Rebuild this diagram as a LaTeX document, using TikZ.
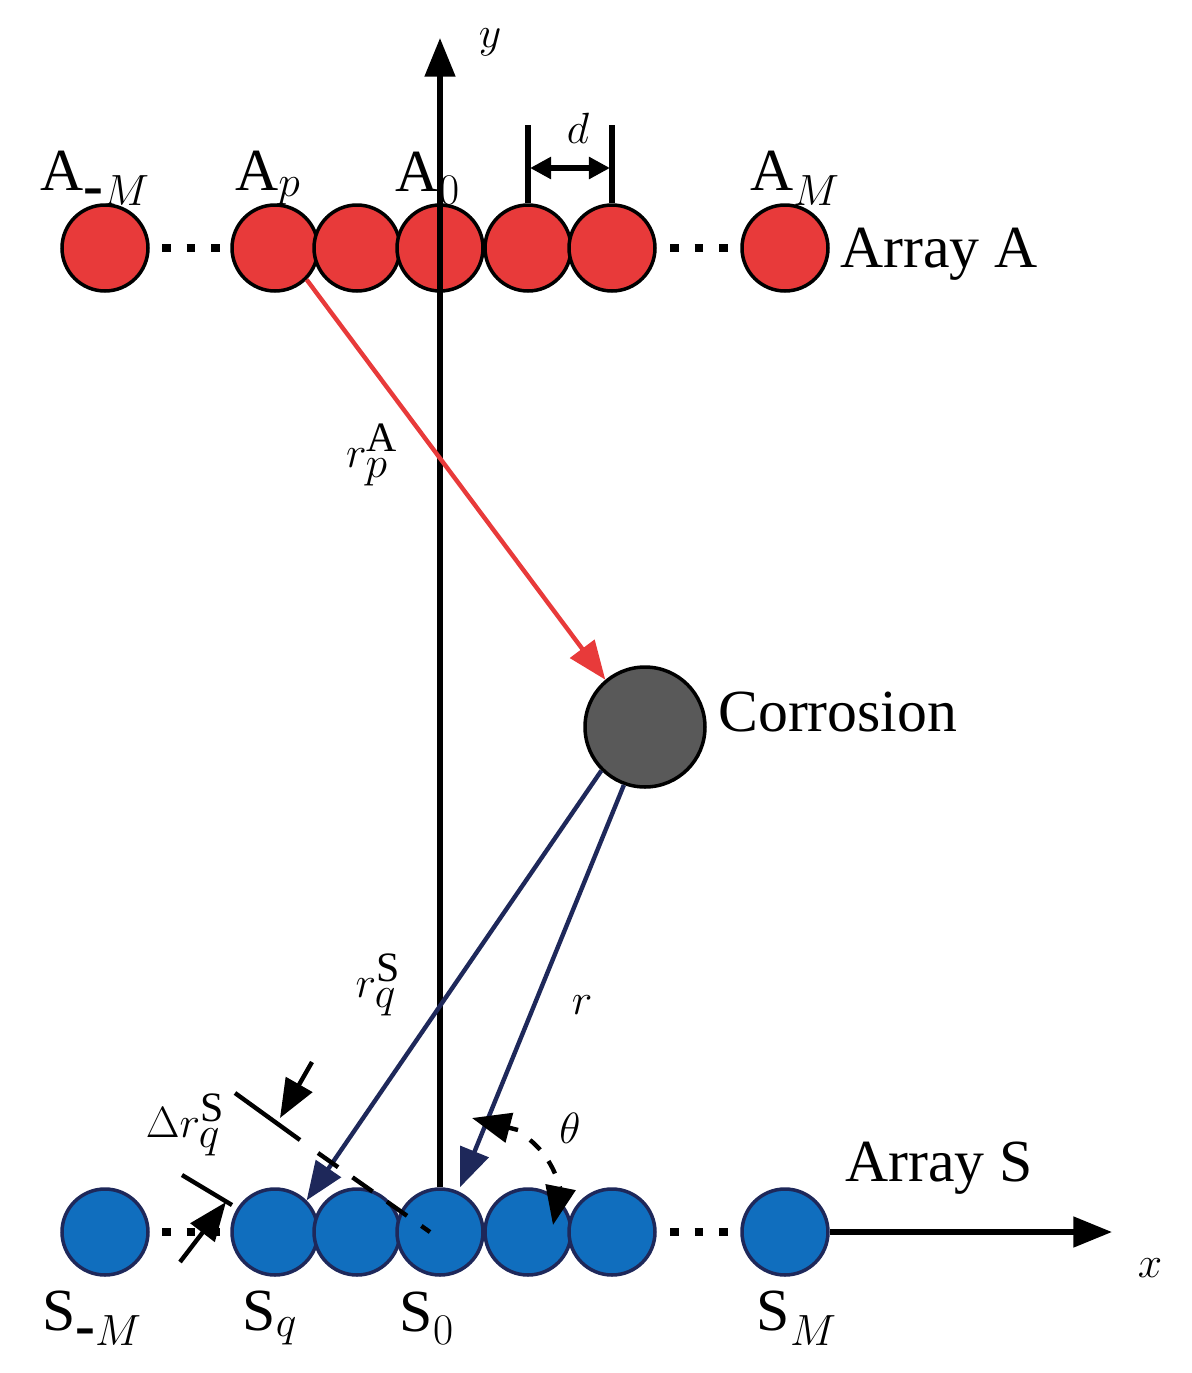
\documentclass[tikz,border=0pt]{standalone}
\usepackage{fontspec}
\setmainfont{Liberation Serif}
\usetikzlibrary{arrows.meta}
\begin{document}
\begin{tikzpicture}[x=0.02cm,y=-0.02cm,
  red/.style={circle,draw=black,line width=2pt,minimum size=1.72cm,inner sep=0},
  blue/.style={circle,line width=2pt,minimum size=1.72cm,inner sep=0},
  lab/.style={font=\fontsize{34}{36}\selectfont,inner sep=0},
  dots/.style={line width=5pt,dash pattern=on 5pt off 9pt},
  ar/.style={-{Triangle[length=22pt,width=17pt]}}]
\useasboundingbox (0,0) rectangle (1191,1373);
\definecolor{cr}{RGB}{232,58,58}\definecolor{cb}{RGB}{16,110,190}\definecolor{nav}{RGB}{30,40,90}
\tikzset{red/.append style={fill=cr},blue/.append style={fill=cb,draw=nav}}
\coordinate (ytop) at (440,38);
\coordinate (xend) at (1112,1232);
\foreach \n/\x in {AmM/105,Ap/275,A1/357,A0/440,A2/528,A3/612,AM/785}{\node[red] (\n) at (\x,248){};}
\foreach \n/\x in {SmM/105,Sq/275,S1/357,S0/440,S2/528,S3/612,SM/785}{\node[blue] (\n) at (\x,1232){};}
\draw[line width=3pt,ar] (S0.north) -- (ytop);
\draw[line width=3pt,ar] (SM.east) -- (xend);
\draw[dots] (162,248)--(228,248); \draw[dots] (670,248)--(740,248);
\draw[dots] (162,1232)--(228,1232); \draw[dots] (670,1232)--(740,1232);
\node[circle,draw=black,line width=2pt,fill=gray!70!black,minimum size=2.4cm,inner sep=0] (C) at (645,727){};
\draw[cr,line width=2.5pt,ar] (Ap.south east) -- (C.130);
\draw[nav,line width=2.5pt,ar] (C.225) -- (Sq.north east);
\draw[nav,line width=2.5pt,ar] (C.250) -- ([xshift=0.4cm]S0.north);
\coordinate (d1) at (528,125);\coordinate (d2) at (612,125);
\draw[line width=3.5pt] (d1) -- (A2.north); \draw[line width=3.5pt] (d2) -- (A3.north);
\draw[line width=3pt,{Triangle[length=12pt,width=12pt]}-{Triangle[length=12pt,width=12pt]}] (530,168) -- (610,168);
\coordinate (t1a) at (182,1175);\coordinate (t1b) at (232,1205);
\coordinate (t2a) at (235,1093);\coordinate (t2b) at (300,1140);
\draw[line width=2.5pt] (t1a)--(t1b); \draw[line width=2.5pt] (t2a)--(t2b);
\draw[line width=2.5pt,dash pattern=on 14pt off 10pt] (318,1153) -- (430,1232);
\coordinate (a1s) at (312,1062);\coordinate (a1e) at (280,1118);
\draw[line width=2.5pt,ar] (a1s)--(a1e);
\coordinate (a2s) at (180,1262);\coordinate (a2e) at (226,1202);
\draw[line width=2.5pt,ar] (a2s)--(a2e);
\coordinate (th1) at (518,1130);\coordinate (th2) at (472,1118);
\draw[line width=2.5pt,ar] (th1)--(th2);
\draw[line width=2.5pt,dash pattern=on 8pt off 8pt,ar] (530,1140) .. controls (555,1160) and (560,1190) .. (553,1225);
\node[lab] at (95,178){A$_{\textbf{-}M}$};
\node[lab] at (268,178){A$_{p}$};
\node[lab] at (428,178){A$_{0}$};
\node[lab] at (578,128){$d$};
\node[lab] at (490,42){$y$};
\node[lab] at (795,178){A$_{M}$};
\node[lab,anchor=west] at (840,254){Array A};
\node[lab,anchor=west] at (718,712){Corrosion};
\node[lab] at (372,455){$r_p^{\mathrm{A}}$};
\node[lab] at (378,985){$r_q^{\mathrm{S}}$};
\node[lab] at (582,1005){$r$};
\node[lab] at (570,1128){$\theta$};
\node[lab] at (185,1125){$\Delta r_q^{\mathrm{S}}$};
\node[lab,anchor=west] at (845,1168){Array S};
\node[lab] at (1150,1268){$x$};
\node[lab] at (92,1318){S$_{\textbf{-}M}$};
\node[lab] at (270,1318){S$_{q}$};
\node[lab] at (427,1318){S$_{0}$};
\node[lab] at (797,1318){S$_{M}$};
\end{tikzpicture}
\end{document}
